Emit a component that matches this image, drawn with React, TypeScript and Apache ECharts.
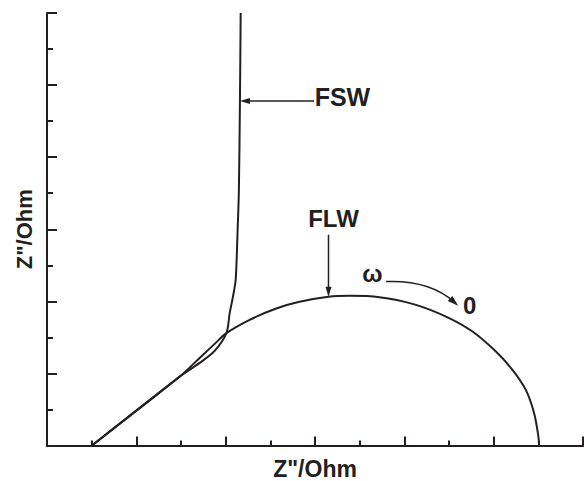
import React, { useEffect, useRef } from "react";
import * as echarts from "echarts";

// FSW curve (Z', Z'')
const fswX = [0.503, 1.486, 1.709, 1.877, 2.008, 2.045, 2.082, 2.112, 2.134, 2.148, 2.16, 2.168];
const fswY = [0, 0.956, 1.146, 1.3125, 1.558, 1.836, 2.067, 2.299, 2.993, 3.549, 4.799, 6.0];
// FLW curve
const flwX = [0.503, 1.486, 1.709, 1.877, 2.008, 2.268, 2.566, 2.827, 3.151, 3.385, 3.721, 4.093, 4.466, 4.763, 5.025, 5.21, 5.36, 5.453, 5.501, 5.508];
const flwY = [0, 0.956, 1.215, 1.41, 1.558, 1.743, 1.9, 1.993, 2.063, 2.076, 2.058, 1.965, 1.789, 1.581, 1.303, 1.049, 0.771, 0.447, 0.122, 0];

const xTitle = 'Z"/Ohm';
const yTitle = 'Z"/Ohm';

const FONT = "'Liberation Sans', Arial, sans-serif";

export default function App() {
  const ref = useRef<HTMLDivElement>(null);
  useEffect(() => {
    if (!ref.current) return;
    const chart = echarts.init(ref.current, undefined, { renderer: "svg" });
    const axisLine = { show: true, lineStyle: { color: "#231f20", width: 2 } };
    const option: any = {
      animation: false,
      backgroundColor: "#fff",
      grid: { left: 47, right: 1, top: 13, bottom: 35.5, containLabel: false, outerBoundsMode: "none" },
      xAxis: [
        {
          type: "value",
          min: 0,
          max: 6,
          interval: 1,
          name: xTitle,
          nameLocation: "middle",
          nameGap: 13,
          nameTextStyle: { fontFamily: FONT, fontWeight: "bold", fontSize: 23, lineHeight: 20, color: "#231f20" },
          axisLine,
          axisTick: { show: true, inside: true, length: 9, lineStyle: { width: 2, color: "#231f20" } },
          minorTick: { show: true, splitNumber: 2, length: 5, lineStyle: { width: 2, color: "#231f20" } },
          axisLabel: { show: false },
          splitLine: { show: false },
        },
        {
          type: "value",
          position: "top",
          min: 0,
          max: 6,
          axisLine: { show: true, lineStyle: { color: "#231f20", width: 1.5 } },
          axisTick: { show: false },
          axisLabel: { show: false },
          splitLine: { show: false },
        },
      ],
      yAxis: [
        {
          type: "value",
          min: 0,
          max: 6,
          interval: 1,
          name: yTitle,
          nameLocation: "middle",
          nameGap: 12,
          nameTextStyle: { fontFamily: FONT, fontWeight: "bold", fontSize: 22, color: "#231f20" },
          axisLine,
          axisTick: { show: true, inside: true, length: 10, lineStyle: { width: 2, color: "#231f20" } },
          minorTick: { show: true, splitNumber: 2, length: 6, lineStyle: { width: 2, color: "#231f20" } },
          axisLabel: { show: false },
          splitLine: { show: false },
        },
        {
          type: "value",
          position: "right",
          min: 0,
          max: 6,
          axisLine: { show: true, lineStyle: { color: "#231f20", width: 1 } },
          axisTick: { show: false },
          axisLabel: { show: false },
          splitLine: { show: false },
        },
      ],
      series: [
        {
          name: "FSW",
          type: "line",
          data: fswX.map((x, i) => [x, fswY[i]]),
          smooth: 0.3,
          symbol: "none",
          clip: true,
          lineStyle: { color: "#231f20", width: 2 },
        },
        {
          name: "FLW",
          type: "line",
          data: flwX.map((x, i) => [x, flwY[i]]),
          smooth: 0.3,
          symbol: "none",
          clip: true,
          lineStyle: { color: "#231f20", width: 2 },
        },
      ],
    };
    chart.setOption(option);

    const p = (x: number, y: number) => chart.convertToPixel({ xAxisIndex: 0, yAxisIndex: 0 }, [x, y]) as number[];
    const head = (tip: number[], from: number[], len = 10, half = 3) => {
      const dx = tip[0] - from[0];
      const dy = tip[1] - from[1];
      const d = Math.hypot(dx, dy) || 1;
      const ux = dx / d, uy = dy / d;
      const bx = tip[0] - ux * len, by = tip[1] - uy * len;
      return [tip, [bx - uy * half, by + ux * half], [bx + uy * half, by - ux * half]];
    };
    const lineStyle = { stroke: "#231f20", lineWidth: 1.5 };
    const textStyle = (s: string, size: number) => ({
      text: s,
      fill: "#231f20",
      font: `bold ${size}px ${FONT}`,
      align: "center",
      verticalAlign: "middle",
    });

    const fswStart = p(2.99, 4.78);
    const fswTip = p(2.16, 4.78);
    const flwStart = p(3.151, 2.924);
    const flwTip = p(3.151, 2.063);
    const cs = p(3.796, 2.275);
    const cc = p(4.279, 2.299);
    const ce = p(4.603, 1.937);

    const fswT = p(3.307, 4.84);
    const flwT = p(3.207, 3.153);
    const omT = p(3.642, 2.38);
    const zeroT = p(4.732, 1.944);

    chart.setOption({
      graphic: [
        { type: "line", shape: { x1: fswStart[0], y1: fswStart[1], x2: fswTip[0] + 8, y2: fswTip[1] }, style: lineStyle },
        { type: "polygon", shape: { points: head(fswTip, fswStart) }, style: { fill: "#231f20" } },
        { type: "line", shape: { x1: flwStart[0], y1: flwStart[1], x2: flwTip[0], y2: flwTip[1] - 8 }, style: lineStyle },
        { type: "polygon", shape: { points: head(flwTip, flwStart) }, style: { fill: "#231f20" } },
        {
          type: "bezierCurve",
          shape: { x1: cs[0], y1: cs[1], cpx1: cc[0], cpy1: cc[1], x2: ce[0] - 4, y2: ce[1] - 4 },
          style: { stroke: "#231f20", lineWidth: 1.5, fill: "none" },
        },
        { type: "polygon", shape: { points: head(ce, cc, 11, 3.5) }, style: { fill: "#231f20" } },
        { type: "text", x: fswT[0], y: fswT[1], style: textStyle("FSW", 25) },
        { type: "text", x: flwT[0], y: flwT[1], style: textStyle("FLW", 24) },
        { type: "text", x: omT[0], y: omT[1], style: textStyle("ω", 24) },
        { type: "text", x: zeroT[0], y: zeroT[1], style: textStyle("0", 24) },
      ],
    });

    return () => chart.dispose();
  }, []);
  return <div ref={ref} style={{ width: 584, height: 481, position: "absolute", left: 0, top: 0 }} />;
}
